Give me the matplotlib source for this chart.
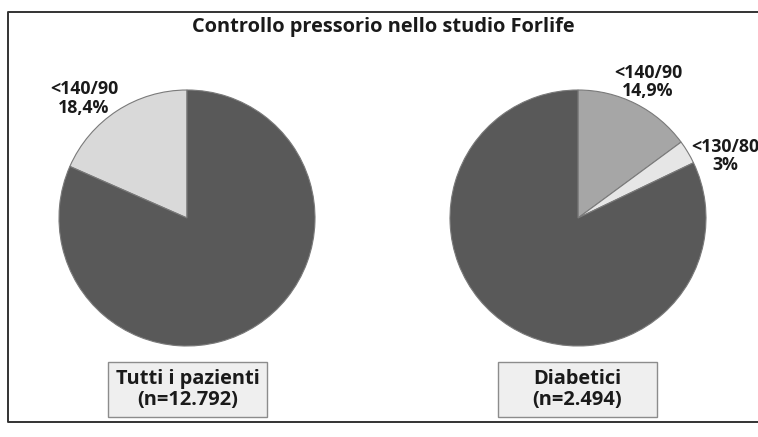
import matplotlib.pyplot as plt
from matplotlib.patches import Rectangle

plt.rcParams['font.family'] = ['Open Sans', 'DejaVu Sans']

# data
title = 'Controllo pressorio nello studio Forlife'
left_values = [18.4, 81.6]
left_colors = ['#d9d9d9', '#595959']
right_values = [14.9, 3.0, 82.1]
right_colors = ['#a6a6a6', '#e6e6e6', '#595959']
left_labels = ['<140/90\n18,4%']
right_labels = ['<140/90\n14,9%', '<130/80\n3%']
box_labels = ['Tutti i pazienti\n(n=12.792)', 'Diabetici\n(n=2.494)']

W, H = 758, 437
fig = plt.figure(figsize=(W / 100, H / 100), dpi=100)
ax = fig.add_axes([0, 0, 1, 1])
ax.set_xlim(0, W)
ax.set_ylim(0, H)
ax.set_aspect('equal')
ax.axis('off')

def py(y):
    # pixel row -> data y
    return H - y

# frame (no right edge in the original)
ax.plot([W + 5, 8, 8, W + 5], [py(12), py(12), py(422), py(422)],
        color='#333333', lw=1.4, solid_capstyle='butt')

ax.text(383, py(27), title, ha='center', va='center',
        fontsize=14.4, fontweight='bold', color='#1a1a1a')

wp = dict(edgecolor='#7a7a7a', linewidth=0.8)
ax.pie(left_values, colors=left_colors, startangle=90, counterclock=True,
       center=(187, py(218)), radius=128, wedgeprops=wp, frame=True)
ax.pie(right_values, colors=right_colors, startangle=90, counterclock=False,
       center=(578, py(218)), radius=128, wedgeprops=wp, frame=True)
ax.set_xlim(0, W)
ax.set_ylim(0, H)
ax.axis('off')

lab = dict(ha='center', va='center', fontsize=12.8, fontweight='bold',
           color='#1a1a1a', linespacing=1.07)
ax.text(84, py(98.5), left_labels[0], **lab)
ax.text(648, py(82), right_labels[0], **lab)
ax.text(725, py(156), right_labels[1], **lab)

for x0, x1, txt in [(108, 267, box_labels[0]), (498, 657, box_labels[1])]:
    ax.add_patch(Rectangle((x0, py(417)), x1 - x0, 417 - 362,
                           facecolor='#efefef', edgecolor='#8c8c8c', lw=1))
    ax.text((x0 + x1) / 2, py(389.5), txt, ha='center', va='center',
            fontsize=14.4, fontweight='bold', color='#1a1a1a', linespacing=1.1)

fig.savefig('out.png', dpi=100)
